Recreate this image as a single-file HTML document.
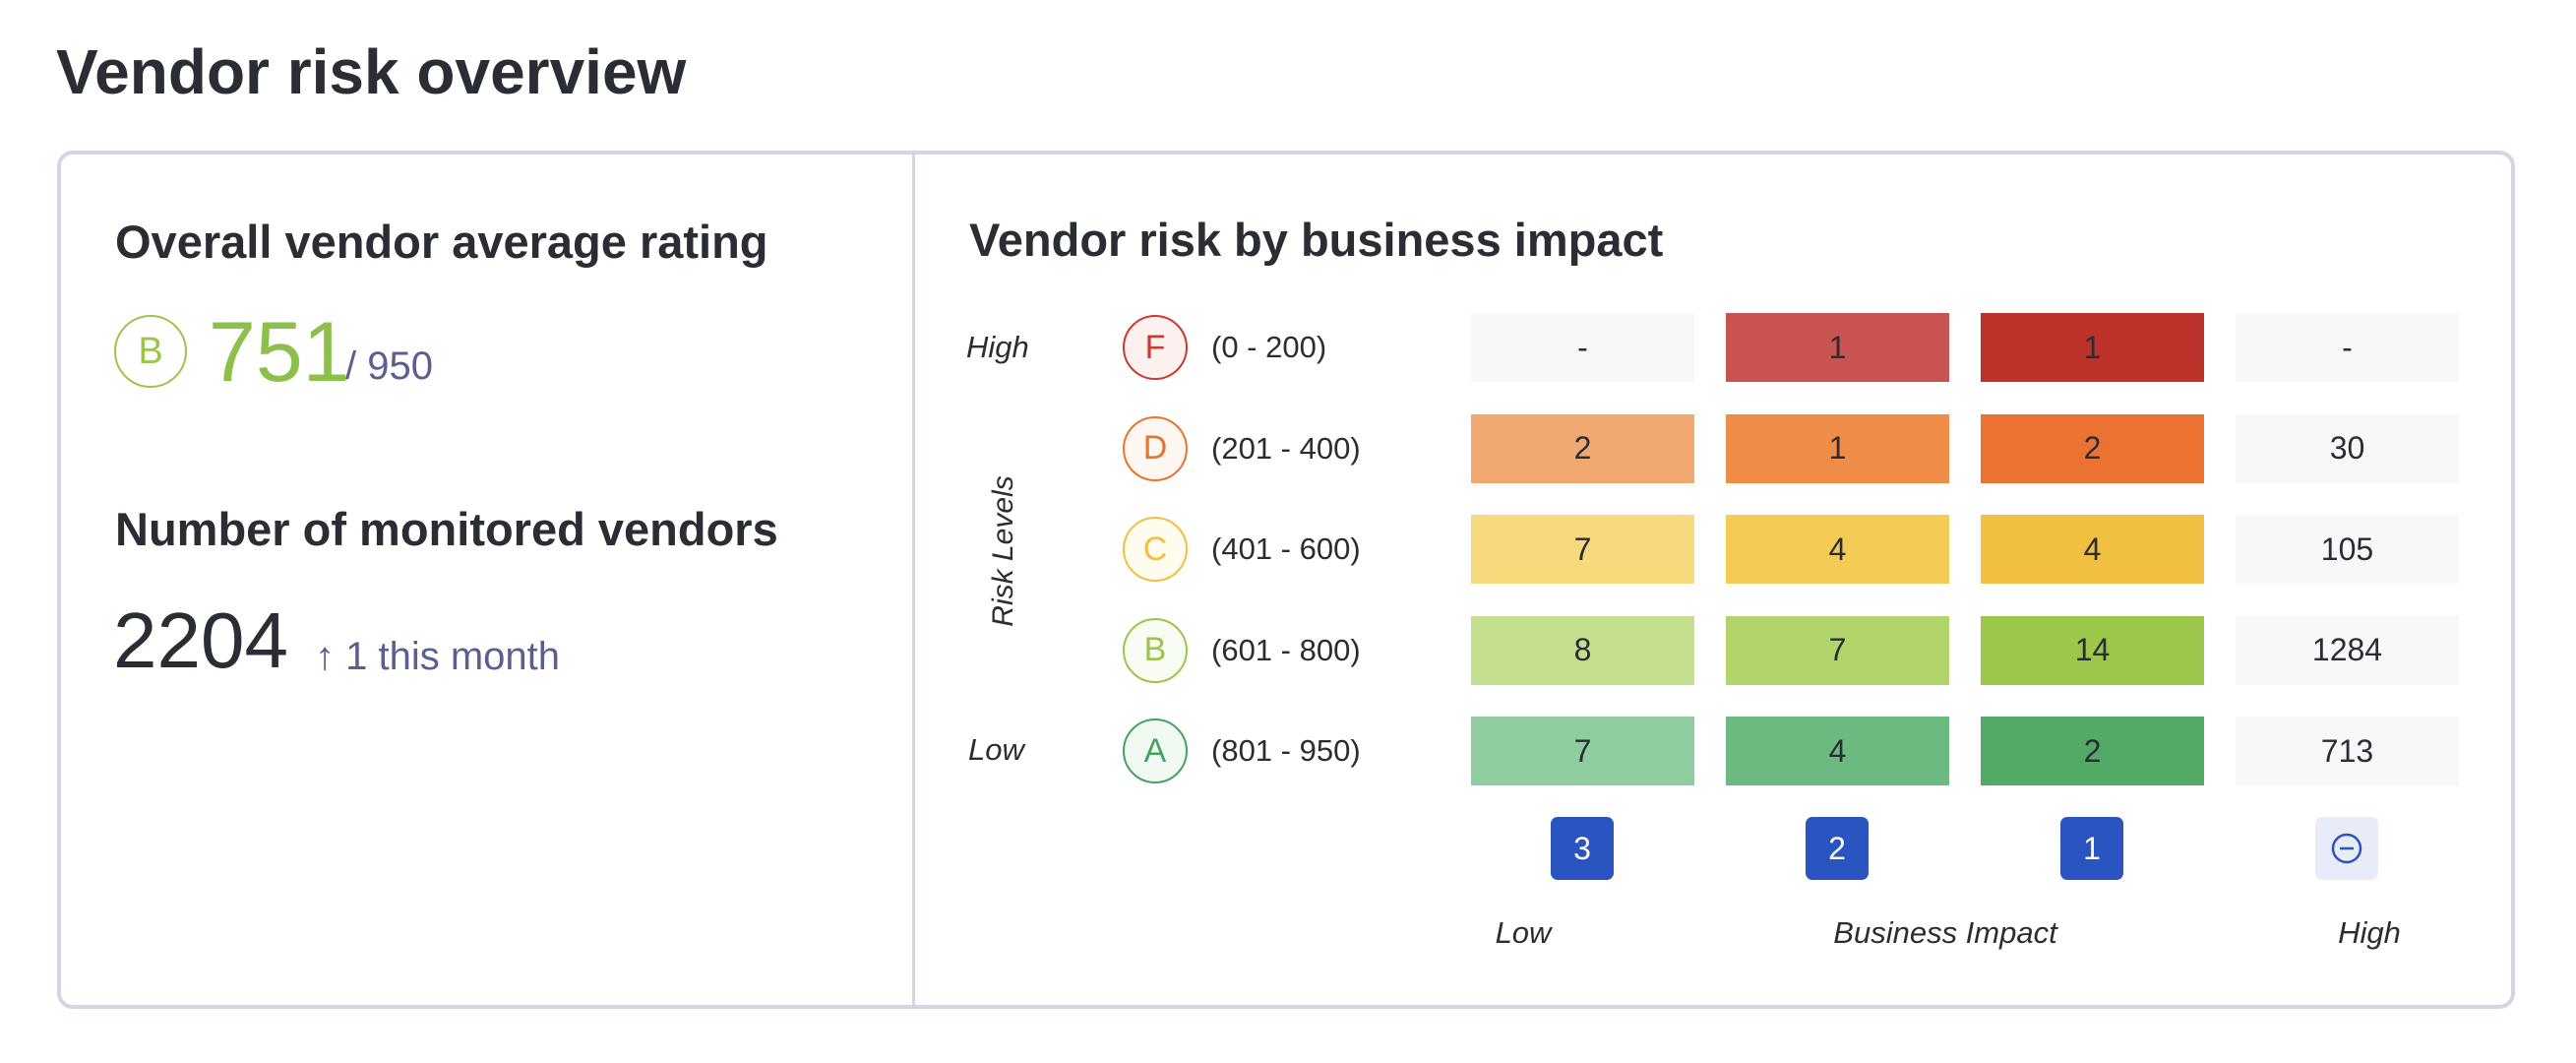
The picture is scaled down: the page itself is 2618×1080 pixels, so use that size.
<!DOCTYPE html>
<html><head><meta charset="utf-8"><style>
*{box-sizing:border-box;margin:0;padding:0}
body{width:2618px;height:1080px;background:#fff;font-family:"Liberation Sans",sans-serif;color:#2a2d33;position:relative;overflow:hidden}
.a{position:absolute;white-space:nowrap}
.cell{position:absolute;width:227px;height:70px;display:flex;align-items:center;justify-content:center;font-size:32px;color:#2a2d33}
.gc{position:absolute;width:66px;height:66px;border-radius:50%;border:2px solid;display:flex;align-items:center;justify-content:center;font-size:34px}
.btn{position:absolute;width:64px;height:64px;border-radius:7px;background:#2a55c0;color:#fff;display:flex;align-items:center;justify-content:center;font-size:32px}
</style></head><body>
<div class="a" style="left:57px;top:36px;font-size:64px;font-weight:700">Vendor risk overview</div>
<div class="a" style="left:58px;top:153px;width:2498px;height:872px;border:4px solid #d3d4e4;border-radius:16px"></div>
<div class="a" style="left:927px;top:155px;width:3px;height:868px;background:#d3d4e4"></div>

<div class="a" style="left:117px;top:218px;font-size:47px;font-weight:700">Overall vendor average rating</div>
<div class="gc" style="left:116px;top:320px;width:74px;height:74px;border-color:#9bc54b;color:#9bc54b;font-size:38px">B</div>
<div class="a" style="left:212px;top:309px;font-size:86px;color:#8dc04a">751</div>
<div class="a" style="left:351px;top:350px;font-size:40px;color:#5b5f8f">/ 950</div>

<div class="a" style="left:117px;top:510px;font-size:47px;font-weight:700">Number of monitored vendors</div>
<div class="a" style="left:115px;top:605px;font-size:80px">2204</div>
<div class="a" style="left:320px;top:645px;font-size:40px;color:#5b5f8f">↑ 1 this month</div>

<div class="a" style="left:985px;top:216px;font-size:47px;font-weight:700">Vendor risk by business impact</div>
<div class="a" style="left:982px;top:335px;font-size:31px;font-style:italic">High</div>
<div class="a" style="left:984px;top:744px;font-size:31px;font-style:italic">Low</div>
<div class="a" style="left:1020px;top:560px;font-size:30px;font-style:italic;transform:translate(-50%,-50%) rotate(-90deg)">Risk Levels</div>
<div class="a" style="left:1548px;top:930px;font-size:31px;font-style:italic;transform:translateX(-50%)">Low</div>
<div class="a" style="left:1977px;top:930px;font-size:31px;font-style:italic;transform:translateX(-50%)">Business Impact</div>
<div class="a" style="left:2408px;top:930px;font-size:31px;font-style:italic;transform:translateX(-50%)">High</div>
<div id="hm"></div>
<script>
const grades=["F","D","C","B","A"];
const ranges=["(0 - 200)","(201 - 400)","(401 - 600)","(601 - 800)","(801 - 950)"];
const impactLabels=["3","2","1","−"];
const col3=["-","2","7","8","7"];
const col2=["1","1","4","7","4"];
const col1=["1","2","4","14","2"];
const colNone=["-","30","105","1284","713"];
const gradeColors=["#c93a32","#e8742e","#f2c040","#9bc54b","#47a25e"];
const gradeBg=["#fdf1f0","#fef6f0","#fffbee","#f8fcf2","#f1f9f3"];
const cellColors=[["#f8f8fa","#c75450","#bc3129","#f8f8fa"],["#f2a971","#ef8c48","#ec7232","#f8f8fa"],["#f6da7c","#f4cc55","#f2c040","#f8f8fa"],["#c4df8d","#b0d36a","#9cc74b","#f8f8fa"],["#8fcc9f","#6bbb81","#52aa66","#f8f8fa"]];
const hm=document.getElementById('hm');
const rowY=i=>318+i*102.5;
const colX=j=>1495+j*259;
const cols=[col3,col2,col1,colNone];
grades.forEach((g,i)=>{
  const c=document.createElement('div');c.className='gc';
  
  
  c.style.left='1141px';c.style.top=(rowY(i)+2)+'px';c.style.borderColor=gradeColors[i];c.style.color=gradeColors[i];c.style.background=gradeBg[i];c.textContent=g;hm.appendChild(c);
  const r=document.createElement('div');r.className='a';
  
  
  r.style.left='1231px';r.style.top=(rowY(i)+17)+'px';r.style.fontSize='31px';r.textContent=ranges[i];hm.appendChild(r);
  cols.forEach((col,j)=>{
    const d=document.createElement('div');d.className='cell';
    
    
    d.style.left=colX(j)+'px';d.style.top=rowY(i)+'px';d.style.background=cellColors[i][j];d.textContent=col[i];hm.appendChild(d);
  });
});
impactLabels.forEach((l,j)=>{
  const b=document.createElement('div');b.className='btn';
  
  
  b.style.left=(colX(j)+113-32)+'px';b.style.top='830px';
  if(j===3){b.style.background='#e8ecf8';b.innerHTML='<svg width="34" height="34" viewBox="0 0 34 34"><circle cx="17" cy="17" r="14" fill="none" stroke="#2a55c0" stroke-width="2.5"/><line x1="10" y1="17" x2="24" y2="17" stroke="#2a55c0" stroke-width="2.5"/></svg>';}
  else b.textContent=l;
  hm.appendChild(b);
});
</script>
</body></html>
